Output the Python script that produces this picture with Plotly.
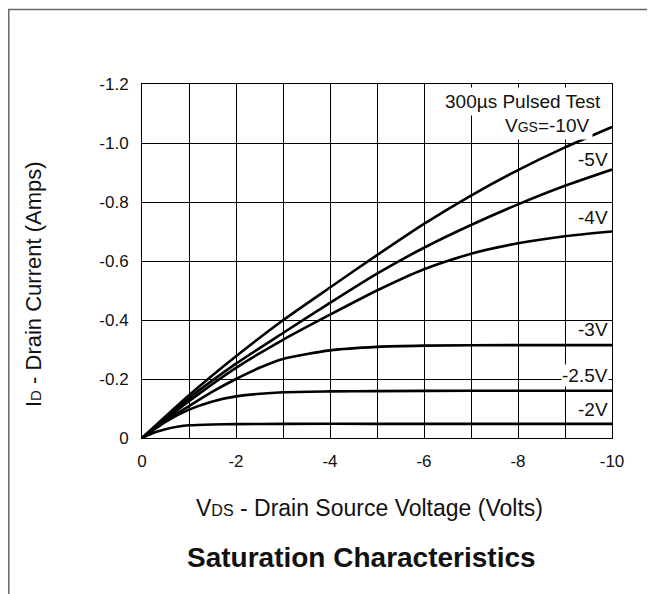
import plotly.graph_objects as go

# ---- data ----
vds_main = [0, -1, -2, -3, -4, -5, -6, -7, -8, -9, -10]
id_vgs10 = [0, -0.145, -0.277, -0.399, -0.51, -0.62, -0.726, -0.822, -0.908, -0.985, -1.054]
id_vgs5 = [0, -0.135, -0.252, -0.356, -0.458, -0.557, -0.645, -0.722, -0.792, -0.855, -0.91]
id_vgs4 = [0, -0.125, -0.238, -0.333, -0.418, -0.50, -0.572, -0.625, -0.66, -0.684, -0.70]

vds_3 = [0, -0.5, -1, -1.5, -2, -2.5, -3, -4, -5, -6, -8, -10]
id_vgs3 = [0, -0.058, -0.108, -0.157, -0.2, -0.238, -0.268, -0.297, -0.309, -0.313, -0.315, -0.315]

vds_25 = [0, -0.5, -1, -1.5, -2, -3, -4, -5, -7, -10]
id_vgs25 = [0, -0.055, -0.096, -0.124, -0.141, -0.155, -0.158, -0.159, -0.16, -0.16]

vds_2 = [0, -0.25, -0.5, -0.75, -1, -1.5, -2, -3, -5, -10]
id_vgs2 = [0, -0.018, -0.03, -0.038, -0.043, -0.046, -0.047, -0.048, -0.048, -0.048]

x_ticks = [0, -2, -4, -6, -8, -10]
x_tick_text = ["0", "-2", "-4", "-6", "-8", "-10"]
x_minor = [-1, -3, -5, -7, -9]
y_ticks = [0, -0.2, -0.4, -0.6, -0.8, -1.0, -1.2]
y_tick_text = ["0", "-0.2", "-0.4", "-0.6", "-0.8", "-1.0", "-1.2"]

curves = [
    (vds_main, id_vgs10),
    (vds_main, id_vgs5),
    (vds_main, id_vgs4),
    (vds_3, id_vgs3),
    (vds_25, id_vgs25),
    (vds_2, id_vgs2),
]

# curve labels
label_text = ["-5V", "-4V", "-3V", "-2.5V", "-2V"]
label_x = [-9.93, -9.93, -9.93, -9.93, -9.93]
label_y = [-0.944, -0.746, -0.367, -0.211, -0.096]

FONT = "Liberation Sans, Arial, sans-serif"

# plot-area geometry in figure pixels
W, H = 647, 586
L, R, T, B = 134, 43, 76, 156
PW, PH = W - L - R, H - T - B  # 470 x 354


def px_x(page_x):
    # page x (reference) -> paper x ; page offset 8px from body margin
    return (page_x - 8 - L) / PW


def px_y(page_y):
    return (H - B - (page_y - 8)) / PH


fig = go.Figure()
for xs, ys in curves:
    fig.add_trace(go.Scatter(
        x=xs, y=ys, mode="lines",
        line=dict(color="black", width=2.6, shape="spline", smoothing=0.6),
        showlegend=False, hoverinfo="skip",
    ))

axis_common = dict(
    showgrid=True, gridcolor="black", gridwidth=1,
    showline=True, linecolor="black", linewidth=1, mirror=True,
    zeroline=False, ticks="", tickfont=dict(family=FONT, size=17, color="#111"),
)

fig.update_xaxes(
    range=[0, -10], tickvals=x_ticks, ticktext=x_tick_text,
    ticklabelstandoff=8,
    minor=dict(tickvals=x_minor, showgrid=True, gridcolor="black", gridwidth=1),
    **axis_common,
)
fig.update_yaxes(
    range=[0, -1.2], tickvals=y_ticks, ticktext=y_tick_text,
    ticklabelstandoff=9,
    **axis_common,
)

annotations = []
annotations.append(dict(
    x=-9.85, y=-1.14, xref="x", yref="y", text="300µs Pulsed Test",
    xanchor="right", yanchor="middle", showarrow=False,
    font=dict(family=FONT, size=19, color="#111"),
    bgcolor="white", borderpad=3,
))
annotations.append(dict(
    x=-9.6, y=-1.06, xref="x", yref="y",
    text="V<span style='font-size:14px'>GS</span>=-10V",
    xanchor="right", yanchor="middle", showarrow=False,
    font=dict(family=FONT, size=19, color="#111"),
    bgcolor="white", borderpad=3,
))
for t, lx, ly in zip(label_text, label_x, label_y):
    annotations.append(dict(
        x=lx, y=ly, xref="x", yref="y", text=t,
        xanchor="right", yanchor="middle", showarrow=False,
        font=dict(family=FONT, size=19, color="#111"),
        bgcolor="white" if t == "-2.5V" else "rgba(0,0,0,0)", borderpad=0,
    ))

# axis titles and chart title
annotations.append(dict(
    x=px_x(369), y=px_y(508), xref="paper", yref="paper",
    text="V<span style='font-size:16px'>DS</span> - Drain Source Voltage (Volts)",
    xanchor="center", yanchor="middle", showarrow=False,
    font=dict(family=FONT, size=23, color="#111"),
))
annotations.append(dict(
    x=px_x(33), y=px_y(284), xref="paper", yref="paper",
    text="I<span style='font-size:15px'>D</span> - Drain Current (Amps)",
    textangle=-90, xanchor="center", yanchor="middle", showarrow=False,
    font=dict(family=FONT, size=22, color="#111"),
))
annotations.append(dict(
    x=px_x(361), y=px_y(557), xref="paper", yref="paper",
    text="<b>Saturation Characteristics</b>",
    xanchor="center", yanchor="middle", showarrow=False,
    font=dict(family=FONT, size=28, color="#111"),
))

# outer frame (top and left edges visible)
shapes = [dict(
    type="rect", xref="paper", yref="paper",
    x0=(0.8 - L) / PW, x1=(W + 30 - L) / PW,
    y0=-(B + 30) / PH, y1=(H - B - 1.5) / PH,
    line=dict(color="#666", width=1.5), fillcolor="rgba(0,0,0,0)", layer="below",
)]

fig.update_layout(
    width=W, height=H,
    margin=dict(l=L, r=R, t=T, b=B),
    paper_bgcolor="white", plot_bgcolor="white",
    annotations=annotations, shapes=shapes,
    showlegend=False,
)

fig.write_html("out.html")
